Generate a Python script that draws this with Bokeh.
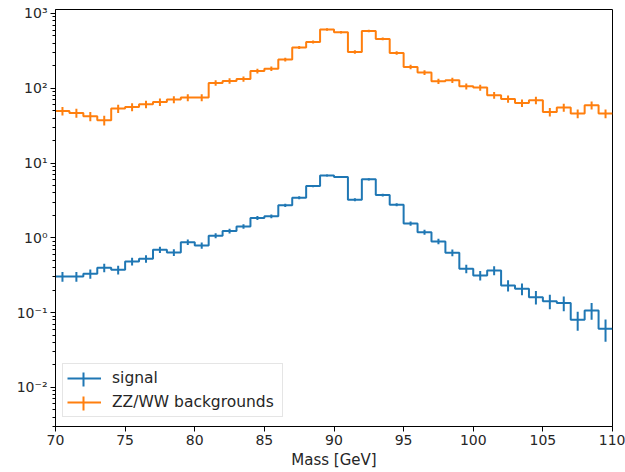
import numpy as np
from bokeh.plotting import figure
from bokeh.models import (ColumnDataSource, FixedTicker, CustomJSTickFormatter,
                          Legend, LegendItem, Range1d, BoxAnnotation)
from bokeh.embed import file_html
from bokeh.resources import INLINE

# ---- data ----
bin_low = 70
bin_high = 110
bin_width = 1

signal = [0.304, 0.304, 0.330, 0.398, 0.374, 0.483, 0.525, 0.693, 0.638, 0.876,
          0.79, 1.07, 1.23, 1.42, 1.84, 1.94, 2.72, 3.44, 4.92, 6.84,
          6.50, 3.24, 6.05, 3.73, 2.77, 1.55, 1.19, 0.896, 0.632, 0.386,
          0.314, 0.366, 0.231, 0.208, 0.161, 0.142, 0.134, 0.080, 0.107, 0.0607]
signal_err = [0.045, 0.045, 0.047, 0.052, 0.050, 0.057, 0.059, 0.068, 0.065, 0.077,
              0.073, 0.085, 0.091, 0.098, 0.111, 0.114, 0.135, 0.152, 0.182, 0.214,
              0.209, 0.147, 0.201, 0.158, 0.136, 0.102, 0.089, 0.077, 0.065, 0.051,
              0.046, 0.050, 0.039, 0.037, 0.033, 0.031, 0.030, 0.023, 0.027, 0.020]

background = [49.6, 46.7, 42.2, 37.3, 53.5, 56.2, 61.1, 65.6, 70.6, 75.1,
              75.1, 117.8, 125.3, 133, 170, 183, 242, 351, 417, 611,
              562, 306, 585, 457, 297, 193, 162, 124, 128, 106,
              102, 80.5, 72, 63.6, 69, 48.2, 55.2, 45.8, 59.2, 45.8]
background_err = [6.5, 6.3, 6.0, 5.6, 6.7, 6.9, 7.2, 7.5, 7.7, 8.0,
                  8.0, 10.0, 10.3, 10.6, 12.0, 12.5, 14.3, 17.3, 18.8, 22.8,
                  21.9, 16.1, 22.3, 19.7, 15.9, 12.8, 11.7, 10.3, 10.4, 9.5,
                  9.3, 8.3, 7.8, 7.4, 7.7, 6.4, 6.8, 6.2, 7.1, 6.2]

labels = ["signal", "ZZ/WW backgrounds"]
x_ticks = [70, 75, 80, 85, 90, 95, 100, 105, 110]
y_ticks = [1e-2, 1e-1, 1e0, 1e1, 1e2, 1e3]
x_label = "Mass [GeV]"

colors = ["#1f77b4", "#ff7f0e"]
FONT = "DejaVu Sans"
TEXT_COLOR = "#262626"

edges = np.arange(bin_low, bin_high + bin_width, bin_width)
centers = edges[:-1] + bin_width / 2.0

p = figure(width=625, height=472, y_axis_type="log",
           x_range=Range1d(70, 110), y_range=Range1d(3.0e-3, 1.13e3),
           output_backend="svg", toolbar_location=None)
p.min_border_left = 55
p.min_border_right = 13
p.min_border_top = 9
p.min_border_bottom = 46
p.background_fill_color = "white"
p.border_fill_color = "white"
p.outline_line_color = "black"
p.outline_line_width = 1
p.xgrid.visible = False
p.ygrid.visible = False

items = []
for vals, errs, col, lab in [(signal, signal_err, colors[0], labels[0]),
                             (background, background_err, colors[1], labels[1])]:
    v = np.array(vals)
    e = np.array(errs)
    step_src = ColumnDataSource(dict(x=edges, y=np.append(v, v[-1])))
    r_step = p.step(x="x", y="y", source=step_src, mode="after",
                    line_color=col, line_width=2)
    err_src = ColumnDataSource(dict(x=centers, lo=v - e, hi=v + e))
    p.segment(x0="x", y0="lo", x1="x", y1="hi", source=err_src,
              line_color=col, line_width=2)
    items.append(LegendItem(label=lab, renderers=[r_step]))

# axes
for ax in (p.xaxis[0], p.yaxis[0]):
    ax.axis_line_color = "black"
    ax.major_tick_line_color = "black"
    ax.minor_tick_line_color = "black"
    ax.major_tick_in = 0
    ax.minor_tick_in = 0
    ax.major_label_text_font = FONT
    ax.major_label_text_font_size = "14px"
    ax.major_label_text_color = TEXT_COLOR
    ax.axis_label_text_font = FONT
    ax.axis_label_text_font_size = "15px"
    ax.axis_label_text_color = TEXT_COLOR
    ax.axis_label_text_font_style = "normal"

p.xaxis.ticker = FixedTicker(ticks=x_ticks, minor_ticks=[])
p.xaxis.major_tick_out = 5
p.xaxis.major_label_standoff = 3
p.xaxis.axis_label = x_label
p.xaxis.axis_label_standoff = 3

minor_y = [m * 10.0 ** k for k in range(-3, 4) for m in range(2, 10)]
p.yaxis.ticker = FixedTicker(ticks=y_ticks, minor_ticks=minor_y)
p.yaxis.major_tick_out = 5
p.yaxis.minor_tick_out = 3
p.yaxis.major_label_standoff = 3
p.yaxis.formatter = CustomJSTickFormatter(code="""
const sup = {'-':'\u207b','0':'\u2070','1':'\u00b9','2':'\u00b2','3':'\u00b3',
             '4':'\u2074','5':'\u2075','6':'\u2076','7':'\u2077','8':'\u2078','9':'\u2079'};
const e = Math.round(Math.log10(tick));
return '10' + String(e).split('').map(c => sup[c]).join('');
""")

LEG_X, LEG_Y, LEG_PAD, ROW_H, ROW_GAP, GLYPH_W = 7, 9, 4, 20, 4, 34
legend = Legend(items=items, location=(LEG_X, LEG_Y))
legend.glyph_width = GLYPH_W
legend.glyph_height = ROW_H
legend.label_height = ROW_H
legend.label_width = 166
legend.spacing = ROW_GAP
legend.padding = LEG_PAD
legend.margin = 0
legend.label_standoff = 11
legend.label_text_font = FONT
legend.label_text_font_size = "15.5px"
legend.label_text_color = TEXT_COLOR
legend.border_line_color = "#cccccc"
legend.border_line_width = 1
legend.background_fill_alpha = 0.0
p.add_layout(legend)

# vertical error-bar strokes of the legend glyphs (screen units, frame-relative)
bar_cx = LEG_X + LEG_PAD + GLYPH_W / 2
n_items = len(items)
for i, col in enumerate(colors):
    row_from_bottom = n_items - 1 - i
    cy = LEG_Y + LEG_PAD + ROW_H / 2 + row_from_bottom * (ROW_H + ROW_GAP)
    p.add_layout(BoxAnnotation(left=bar_cx - 1, right=bar_cx + 1,
                               bottom=cy - 7, top=cy + 7,
                               left_units="screen", right_units="screen",
                               bottom_units="screen", top_units="screen",
                               fill_color=col, fill_alpha=1.0, line_alpha=0,
                               editable=False))

open("out.html", "w").write(file_html(p, INLINE))
